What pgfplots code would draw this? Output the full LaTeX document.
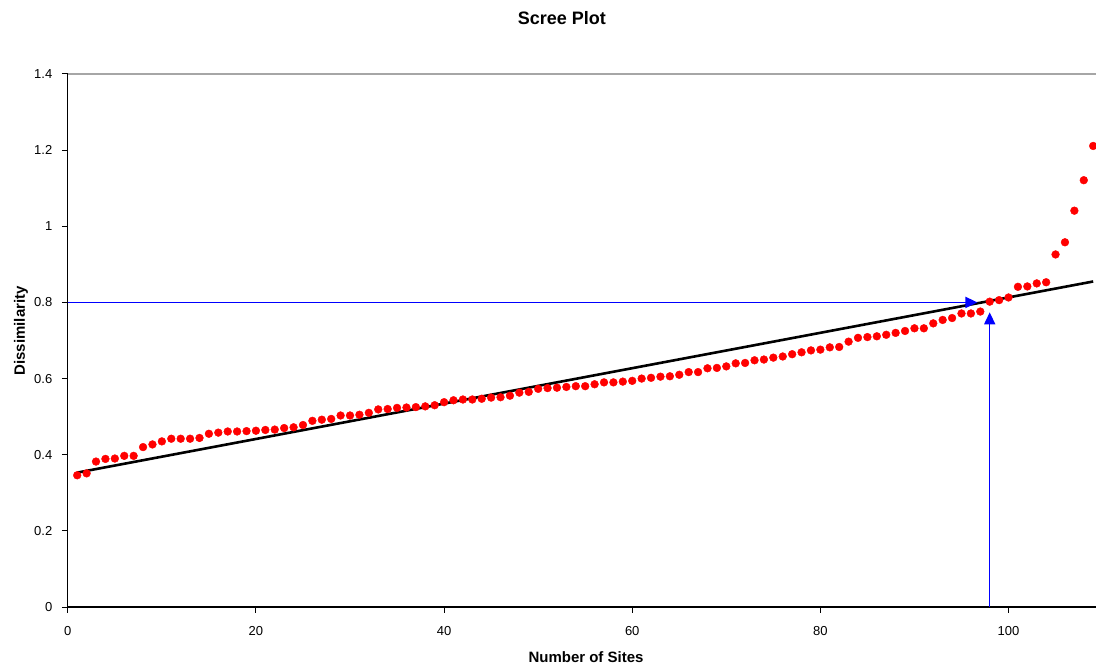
\documentclass[border=0pt]{standalone}
\usepackage{pgfplots}
\pgfplotsset{compat=1.18}
\usepackage{pgfplotstable}
\usepackage{fontspec}
\setmainfont{Liberation Sans}
\usetikzlibrary{arrows.meta}

\pgfplotstableread{
x y
1 0.346
2 0.351
3 0.382
4 0.389
5 0.390
6 0.397
7 0.397
8 0.420
9 0.427
10 0.435
11 0.442
12 0.442
13 0.442
14 0.444
15 0.455
16 0.458
17 0.461
18 0.461
19 0.462
20 0.463
21 0.465
22 0.466
23 0.470
24 0.472
25 0.478
26 0.489
27 0.492
28 0.494
29 0.503
30 0.503
31 0.505
32 0.510
33 0.519
34 0.520
35 0.523
36 0.524
37 0.525
38 0.527
39 0.530
40 0.538
41 0.543
42 0.545
43 0.545
44 0.547
45 0.550
46 0.551
47 0.555
48 0.563
49 0.565
50 0.573
51 0.575
52 0.576
53 0.578
54 0.580
55 0.580
56 0.585
57 0.590
58 0.590
59 0.592
60 0.594
61 0.600
62 0.602
63 0.605
64 0.606
65 0.610
66 0.617
67 0.617
68 0.627
69 0.628
70 0.632
71 0.640
72 0.641
73 0.648
74 0.650
75 0.655
76 0.658
77 0.664
78 0.669
79 0.674
80 0.676
81 0.682
82 0.683
83 0.697
84 0.707
85 0.709
86 0.711
87 0.715
88 0.720
89 0.725
90 0.732
91 0.732
92 0.745
93 0.754
94 0.759
95 0.771
96 0.771
97 0.776
98 0.802
99 0.806
100 0.813
101 0.841
102 0.842
103 0.850
104 0.853
105 0.926
106 0.958
107 1.041
108 1.121
109 1.211
}\scree

\begin{document}
\begin{tikzpicture}
\begin{axis}[
  name=ax,
  scale only axis,
  width=1028.2bp, height=533bp,
  xmin=0, xmax=109.3,
  ymin=0, ymax=1.4,
  xtick={0,20,40,60,80,100},
  ytick={0,0.2,0.4,0.6,0.8,1,1.2,1.4},
  axis lines=left,
  axis line style={-, line width=1.2bp, black},
  tick align=outside,
  major tick length=6bp,
  tick style={black, line width=1bp},
  /pgf/number format/assume math mode=true,
  tick label style={font=\fontsize{13bp}{15bp}\selectfont},
  yticklabel style={/pgf/number format/fixed, xshift=-6bp},
  xticklabel style={yshift=-10bp},
  title={Scree Plot},
  title style={font=\fontsize{18bp}{20bp}\selectfont\bfseries, at={(axis description cs:0.4806,1.0824)}, anchor=base},
  xlabel={Number of Sites},
  xlabel style={font=\fontsize{15bp}{17bp}\selectfont\bfseries, at={(axis description cs:0.504,-0.105)}, anchor=base},
  ylabel={Dissimilarity},
  ylabel style={font=\fontsize{15bp}{17bp}\selectfont\bfseries, at={(axis description cs:-0.0418,0.518)}, anchor=base, rotate=0},
  clip=false,
]
\draw[gray!70, line width=1.2bp] (rel axis cs:0,1) -- (rel axis cs:1,1);
\addplot[only marks, mark=*, mark size=3.9bp, red, mark options={fill=red, draw=red}] table[x=x, y=y] {\scree};
\addplot[black, line width=2.6bp] coordinates {(1,0.353) (109,0.855)};
\addplot[blue, line width=1.5bp, -{Triangle[length=12bp, width=11bp]}] coordinates {(0,0.8) (96.7,0.8)};
\addplot[blue, line width=1.5bp, -{Triangle[length=12bp, width=11bp]}] coordinates {(98,0) (98,0.774)};
\end{axis}
\pgfresetboundingbox
\path[use as bounding box] ([xshift=-67.8bp, yshift=-58bp]ax.south west) rectangle ([yshift=74bp]ax.north east);
\end{tikzpicture}
\end{document}
